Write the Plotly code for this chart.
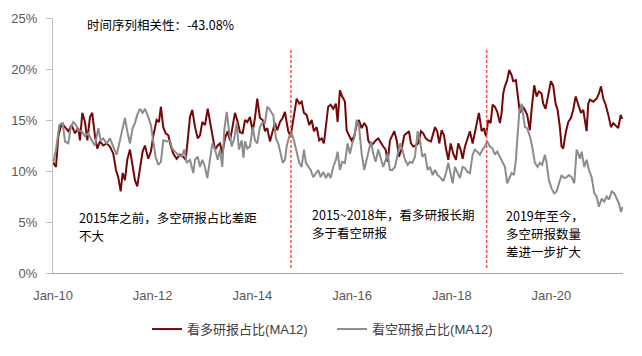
import pandas as pd
import plotly.graph_objects as go

# ---- data (decimal years, percent values) ----
bull_t = [2010.006,2010.060,2010.106,2010.175,2010.241,2010.307,2010.375,2010.441,2010.508,2010.542,2010.588,2010.642,2010.689,2010.742,2010.788,2010.843,2010.889,2010.943,
          2011.009,2011.077,2011.143,2011.210,2011.264,2011.310,2011.358,2011.398,2011.444,2011.491,2011.545,2011.599,2011.645,2011.691,2011.745,2011.799,2011.846,2011.912,2011.966,
          2012.012,2012.080,2012.126,2012.166,2012.213,2012.261,2012.313,2012.367,2012.413,2012.481,2012.548,2012.614,2012.662,2012.702,2012.748,2012.794,2012.849,2012.903,2012.949,2012.995,
          2013.049,2013.103,2013.149,2013.196,2013.250,2013.304,2013.350,2013.396,2013.450,2013.504,2013.551,2013.597,2013.651,2013.705,2013.751,2013.805,2013.852,2013.898,2013.952,
          2014.006,2014.052,2014.098,2014.152,2014.207,2014.253,2014.299,2014.353,2014.407,2014.453,2014.500,2014.554,2014.608,2014.654,2014.688,2014.720,2014.768,2014.809,2014.855,2014.889,2014.941,2014.989,
          2015.035,2015.089,2015.141,2015.190,2015.236,2015.290,2015.342,2015.390,2015.436,2015.490,2015.522,2015.571,2015.623,2015.677,2015.711,2015.757,2015.803,2015.858,2015.892,2015.938,2015.992,
          2016.044,2016.092,2016.138,2016.193,2016.245,2016.293,2016.325,2016.379,2016.425,2016.474,2016.526,2016.580,2016.626,2016.674,2016.714,2016.760,2016.806,2016.847,2016.895,2016.941,2016.995,
          2017.047,2017.095,2017.141,2017.181,2017.228,2017.276,2017.328,2017.382,2017.428,2017.477,2017.529,2017.583,2017.629,2017.663,2017.709,2017.749,2017.797,2017.844,2017.884,2017.930,2017.978,
          2018.030,2018.084,2018.130,2018.178,2018.218,2018.265,2018.311,2018.365,2018.419,2018.465,2018.511,2018.545,2018.600,2018.646,2018.686,2018.732,2018.780,2018.820,2018.866,2018.913,2018.967,
          2019.001,2019.033,2019.067,2019.113,2019.153,2019.201,2019.234,2019.288,2019.334,2019.368,2019.422,2019.468,2019.514,2019.568,2019.602,2019.655,2019.703,2019.749,2019.803,2019.835,2019.883,2019.936,2019.990,
          2020.036,2020.084,2020.124,2020.170,2020.204,2020.237,2020.285,2020.337,2020.391,2020.437,2020.486,2020.538,2020.592,2020.638,2020.672,2020.706,2020.738,2020.772,2020.838,2020.906,2020.953,2020.993,
          2021.039,2021.087,2021.140,2021.194,2021.240,2021.288,2021.340,2021.388,2021.420]
bull_v = [10.8,10.4,13.4,14.7,14.3,13.9,14.5,13.7,14.2,13.0,15.7,14.8,13.0,15.3,15.7,13.4,12.2,12.9,
          12.5,12.7,12.4,11.7,10.1,9.4,8.0,9.8,9.1,11.1,12.1,10.4,9.1,8.5,10.1,11.9,12.5,11.2,11.9,
          13.4,15.0,14.8,16.3,14.3,13.7,13.5,12.4,11.7,11.2,11.6,11.4,11.1,13.0,15.3,16.0,14.3,13.2,13.5,14.8,
          14.5,16.1,14.8,13.4,12.1,12.5,12.7,11.7,13.2,13.9,13.0,14.2,15.7,14.8,13.8,13.7,15.0,14.8,15.3,
          13.9,15.2,17.1,15.2,15.0,13.9,14.2,12.9,13.9,14.7,14.0,14.8,15.2,15.8,14.8,13.9,13.4,14.7,16.3,17.1,16.6,16.8,
          15.7,15.5,14.5,15.0,13.9,14.3,13.0,13.2,12.7,14.7,16.3,16.5,16.1,16.6,14.8,17.9,17.3,16.8,14.0,13.5,13.0,
          13.4,14.5,15.0,14.2,14.7,14.3,13.0,12.5,12.7,13.0,13.2,12.7,12.4,12.1,10.9,13.0,13.4,13.9,13.0,11.4,12.2,
          13.5,13.7,13.9,12.7,12.4,12.5,12.7,13.9,13.7,13.2,13.0,12.9,13.7,14.3,13.9,12.7,14.0,13.5,12.2,11.1,12.7,
          11.7,11.1,12.7,12.1,11.2,12.4,13.0,13.9,12.7,13.9,14.8,15.7,13.9,14.2,13.4,15.0,14.7,16.5,16.3,15.8,14.7,
          15.7,17.6,18.3,18.9,19.9,19.4,18.8,18.9,17.0,15.7,16.3,16.0,15.5,14.0,16.0,18.4,17.3,17.8,17.6,16.6,16.1,17.6,18.8,
          18.4,16.6,16.0,14.3,12.4,12.2,13.7,14.8,15.2,16.0,17.3,16.5,15.7,16.0,14.7,13.9,16.6,17.0,16.8,17.1,17.6,18.3,
          17.1,16.5,15.5,14.3,14.7,14.5,14.2,15.5,15.1]

bear_t = [2010.006,2010.060,2010.126,2010.194,2010.241,2010.307,2010.355,2010.407,2010.461,2010.508,2010.575,2010.642,2010.708,2010.776,2010.843,2010.909,2010.957,
          2011.009,2011.077,2011.143,2011.210,2011.278,2011.344,2011.398,2011.444,2011.491,2011.545,2011.599,2011.645,2011.691,2011.745,2011.799,2011.846,2011.912,2011.966,
          2012.012,2012.060,2012.112,2012.166,2012.213,2012.281,2012.347,2012.393,2012.447,2012.514,2012.582,2012.634,2012.682,2012.748,2012.814,2012.849,2012.903,2012.949,2012.995,
          2013.049,2013.095,2013.149,2013.196,2013.250,2013.304,2013.350,2013.396,2013.436,2013.484,2013.530,2013.585,2013.637,2013.685,2013.731,2013.785,2013.820,2013.852,2013.898,2013.952,
          2014.006,2014.052,2014.098,2014.152,2014.207,2014.253,2014.299,2014.339,2014.387,2014.419,2014.473,2014.520,2014.568,2014.608,2014.654,2014.688,2014.740,2014.788,2014.835,2014.889,2014.941,2014.989,
          2015.035,2015.075,2015.121,2015.169,2015.222,2015.276,2015.322,2015.370,2015.422,2015.476,2015.522,2015.571,2015.623,2015.677,2015.711,2015.757,2015.803,2015.858,2015.911,2015.958,
          2016.004,2016.044,2016.092,2016.138,2016.193,2016.245,2016.293,2016.339,2016.379,2016.425,2016.474,2016.526,2016.580,2016.626,2016.674,2016.714,2016.760,2016.806,2016.860,2016.914,2016.961,
          2017.007,2017.061,2017.115,2017.161,2017.208,2017.262,2017.316,2017.362,2017.408,2017.462,2017.516,2017.563,2017.617,2017.663,2017.717,2017.763,2017.829,2017.884,2017.930,2017.978,
          2018.018,2018.064,2018.110,2018.164,2018.218,2018.265,2018.311,2018.365,2018.419,2018.465,2018.511,2018.565,2018.619,2018.665,2018.712,2018.766,2018.820,2018.866,2018.913,2018.967,
          2019.021,2019.067,2019.113,2019.153,2019.201,2019.248,2019.288,2019.314,2019.354,2019.402,2019.434,2019.468,2019.514,2019.568,2019.614,2019.669,2019.723,2019.769,2019.815,2019.870,2019.904,2019.950,
          2020.004,2020.056,2020.104,2020.150,2020.204,2020.257,2020.305,2020.351,2020.405,2020.458,2020.506,2020.538,2020.572,2020.606,2020.658,2020.706,2020.752,2020.806,2020.859,2020.906,2020.953,
          2021.007,2021.059,2021.107,2021.154,2021.208,2021.260,2021.308,2021.354,2021.394,2021.434]
bear_v = [10.8,12.1,14.5,14.7,12.9,12.7,14.2,14.8,14.5,14.0,13.9,13.4,13.7,13.0,12.5,14.2,13.0,
          13.2,12.7,13.2,12.4,11.6,13.0,14.2,15.2,13.9,12.7,14.2,14.7,15.5,16.1,15.7,16.1,15.3,14.5,
          12.9,11.4,10.6,10.9,13.0,12.9,13.0,12.2,11.9,11.6,11.4,12.1,10.8,11.1,9.8,11.1,11.4,10.4,11.1,
          10.4,9.3,11.4,12.7,12.1,11.1,12.1,10.4,14.0,15.8,14.0,12.4,13.2,14.7,12.1,13.0,11.3,12.9,12.2,12.4,
          14.3,13.0,12.7,14.3,14.8,14.7,16.3,16.1,15.7,15.5,13.2,12.7,11.7,10.8,11.1,12.4,13.4,13.7,13.0,11.7,10.8,10.4,
          12.1,10.8,10.4,10.1,9.4,9.8,10.1,9.4,9.9,9.3,9.8,9.3,10.4,11.1,11.9,10.1,10.9,10.8,12.7,11.7,
          12.7,13.2,15.0,14.5,11.7,10.1,11.1,12.2,12.9,11.7,10.9,12.1,11.1,10.4,11.1,11.7,10.1,10.1,10.4,11.7,12.7,
          12.1,11.1,10.6,10.9,10.8,11.4,13.9,13.0,11.4,11.7,10.1,10.4,9.6,10.1,9.6,9.4,9.0,9.8,10.8,9.6,
          8.8,10.4,9.8,9.3,10.4,10.3,9.9,9.8,11.6,12.1,11.9,11.6,12.1,12.4,12.9,12.4,12.2,11.6,11.9,11.4,
          10.8,10.4,8.8,9.3,9.8,9.6,11.1,13.0,15.7,16.6,15.5,14.3,14.2,13.4,12.4,10.8,10.4,10.8,10.6,11.6,10.8,9.1,
          8.3,7.8,8.0,8.8,9.6,9.3,9.4,9.6,9.4,8.8,12.1,11.7,11.2,11.9,10.4,11.1,10.1,9.4,7.8,7.5,6.5,
          7.3,7.0,7.5,7.2,8.0,7.8,7.3,6.8,6.0,6.5]

series_names = ["看多研报占比(MA12)", "看空研报占比(MA12)"]
event_t = [2014.774, 2018.700]
y_ticks = [0, 5, 10, 15, 20, 25]
y_tick_labels = ["0%", "5%", "10%", "15%", "20%", "25%"]
x_tick_years = [2010, 2012, 2014, 2016, 2018, 2020]
corr_text = "时间序列相关性：-43.08%"
notes = [["2015年之前，多空研报占比差距", "不大"],
         ["2015~2018年，看多研报长期", "多于看空研报"],
         ["2019年至今，", "多空研报数量", "差进一步扩大"]]


def to_date(t):
    y = int(t)
    s = pd.Timestamp(year=y, month=1, day=1)
    e = pd.Timestamp(year=y + 1, month=1, day=1)
    return s + (e - s) * (t - y)


bull_x = [to_date(t) for t in bull_t]
bear_x = [to_date(t) for t in bear_t]

fig = go.Figure()
fig.add_trace(go.Scatter(x=bull_x, y=bull_v, mode="lines", name=series_names[0],
                         line=dict(color="#730808", width=2)))
fig.add_trace(go.Scatter(x=bear_x, y=bear_v, mode="lines", name=series_names[1],
                         line=dict(color="#8c8c8c", width=2)))

for t in event_t:
    d = to_date(t)
    fig.add_shape(type="line", xref="x", yref="y", x0=d, x1=d, y0=0.5, y1=22,
                  line=dict(color="#ff4d4d", width=1.5, dash="3px,2px"))

txt_font = dict(family="Noto Sans CJK SC", size=12.5, color="#000000")
fig.add_annotation(xref="paper", yref="paper", x=0.056, y=0.973, xanchor="left", yanchor="middle",
                   text=corr_text, showarrow=False, font=txt_font)
# (paper x of left edge, paper y of first line centre, line step in paper units)
note_pos = [(0.044, 0.2157), (0.452, 0.2275), (0.793, 0.2255)]
line_step = 17.8 / 255
for (px, py), lines in zip(note_pos, notes):
    for i, ln in enumerate(lines):
        fig.add_annotation(xref="paper", yref="paper", x=px, y=py - i * line_step,
                           xanchor="left", yanchor="middle", align="left", borderpad=0,
                           text=ln, showarrow=False, font=txt_font)

fig.update_layout(
    width=642, height=356,
    margin=dict(l=53, r=19, t=18, b=83),
    paper_bgcolor="white", plot_bgcolor="white",
    font=dict(family="Liberation Sans, Noto Sans CJK SC", size=13, color="#595959"),
    showlegend=True,
    legend=dict(orientation="h", x=0.165, xanchor="left", y=-0.22, yanchor="middle",
                font=dict(size=13, color="#404040"), entrywidth=140,
                bgcolor="rgba(0,0,0,0)"),
)
fig.update_xaxes(type="date",
                 range=[to_date(2010.0), to_date(2021.435)],
                 tickvals=[pd.Timestamp(year=y, month=1, day=1) for y in x_tick_years],
                 tickformat="%b-%y", showgrid=False, zeroline=False,
                 showline=True, linecolor="#a6a6a6", linewidth=1,
                 ticks="", ticklabelstandoff=10, tickfont=dict(size=13, color="#595959"))
fig.update_yaxes(range=[0, 25], tickvals=y_ticks, ticktext=y_tick_labels,
                 showgrid=False, zeroline=False,
                 showline=True, linecolor="#bfbfbf", linewidth=1,
                 ticks="outside", ticklen=6, tickcolor="#bfbfbf",
                 ticklabelstandoff=6, tickfont=dict(size=13, color="#595959"))

fig.write_html("out.html", config={"displayModeBar": False},
               post_script="document.body.style.margin='0';document.body.style.overflow='hidden';")
